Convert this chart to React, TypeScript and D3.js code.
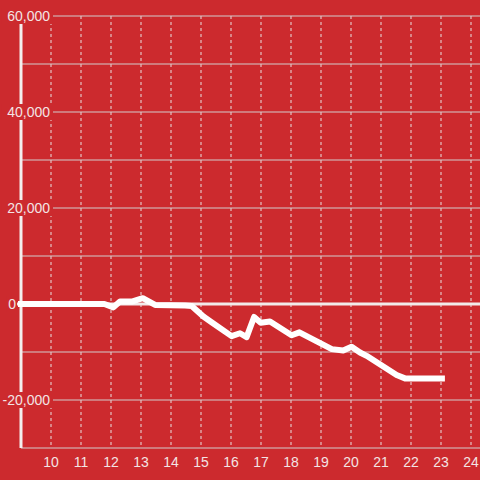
import React from "react";
import * as d3 from "d3";

const xValues = [9, 11.78, 12.08, 12.3, 12.69, 13.06, 13.47, 14.47, 14.69, 15.08, 15.4, 16.02, 16.3, 16.52, 16.77, 16.99, 17.3, 18.02, 18.28, 19.36, 19.74, 20.02, 20.3, 20.52, 21.52, 21.8, 23.03];
const yValues = [0, 0, -700, 500, 500, 1200, -200, -300, -400, -2600, -4000, -6700, -6100, -6900, -2700, -3900, -3650, -6500, -5900, -9400, -9700, -8900, -10100, -10800, -14800, -15500, -15500];
const xTicks = [10, 11, 12, 13, 14, 15, 16, 17, 18, 19, 20, 21, 22, 23, 24];
const yGridTicks = [-30000, -20000, -10000, 0, 10000, 20000, 30000, 40000, 50000, 60000];
const yLabelTicks = [-20000, 0, 20000, 40000, 60000];

const W = 480;
const H = 480;
const BG = "#cc2a2e";

export default function App() {
  const x = d3.scaleLinear().domain([9, 24.3]).range([21, 480]);
  const y = d3.scaleLinear().domain([-30000, 60000]).range([448, 16]);
  const fmt = d3.format(",");
  const pts = xValues.map((v, i) => [v, yValues[i]] as [number, number]);
  const line = d3
    .line<[number, number]>()
    .x((d) => x(d[0]))
    .y((d) => y(d[1]));

  return (
    <svg
      width={W}
      height={H}
      style={{ position: "absolute", left: 0, top: 0, display: "block" }}
      fontFamily="'Liberation Sans', Arial, sans-serif"
    >
      <rect x={0} y={0} width={W} height={H} fill={BG} />
      {xTicks.map((t) => (
        <line
          key={"vx" + t}
          x1={x(t)}
          x2={x(t)}
          y1={y(60000)}
          y2={y(-30000)}
          stroke="#e8e0e0"
          strokeWidth={1}
          strokeDasharray="3,3"
        />
      ))}
      {yGridTicks.map((t) => (
        <line
          key={"hy" + t}
          x1={x(9)}
          x2={W}
          y1={y(t)}
          y2={y(t)}
          stroke="#d2cccc"
          strokeWidth={1}
        />
      ))}
      <line x1={x(9)} x2={x(9)} y1={y(60000)} y2={y(-30000)} stroke="#f4eeee" strokeWidth={3} />
      {yLabelTicks.map((t) => {
        const label = fmt(t).replace("−", "-");
        const w = label.length * 7.8;
        const right = t === 0 ? 16 : 50;
        return (
          <g key={"yl" + t}>
            <rect x={right - w - 2} y={y(t) - 8} width={w + 5} height={16} fill={BG} />
            <text
              x={right}
              y={y(t)}
              dy="0.35em"
              textAnchor="end"
              fontSize={14}
              fill="#f3e4e4"
            >
              {label}
            </text>
          </g>
        );
      })}
      <line x1={17} x2={W} y1={y(0)} y2={y(0)} stroke="#f2eaea" strokeWidth={3} />
      <path
        d={line(pts) || ""}
        fill="none"
        stroke="#ffffff"
        strokeWidth={6}
        strokeLinejoin="round"
        strokeLinecap="square"
      />
      {xTicks.map((t) => (
        <text
          key={"xl" + t}
          x={x(t)}
          y={462}
          dy="0.35em"
          textAnchor="middle"
          fontSize={14}
          fill="#f3e4e4"
        >
          {t}
        </text>
      ))}
    </svg>
  );
}
